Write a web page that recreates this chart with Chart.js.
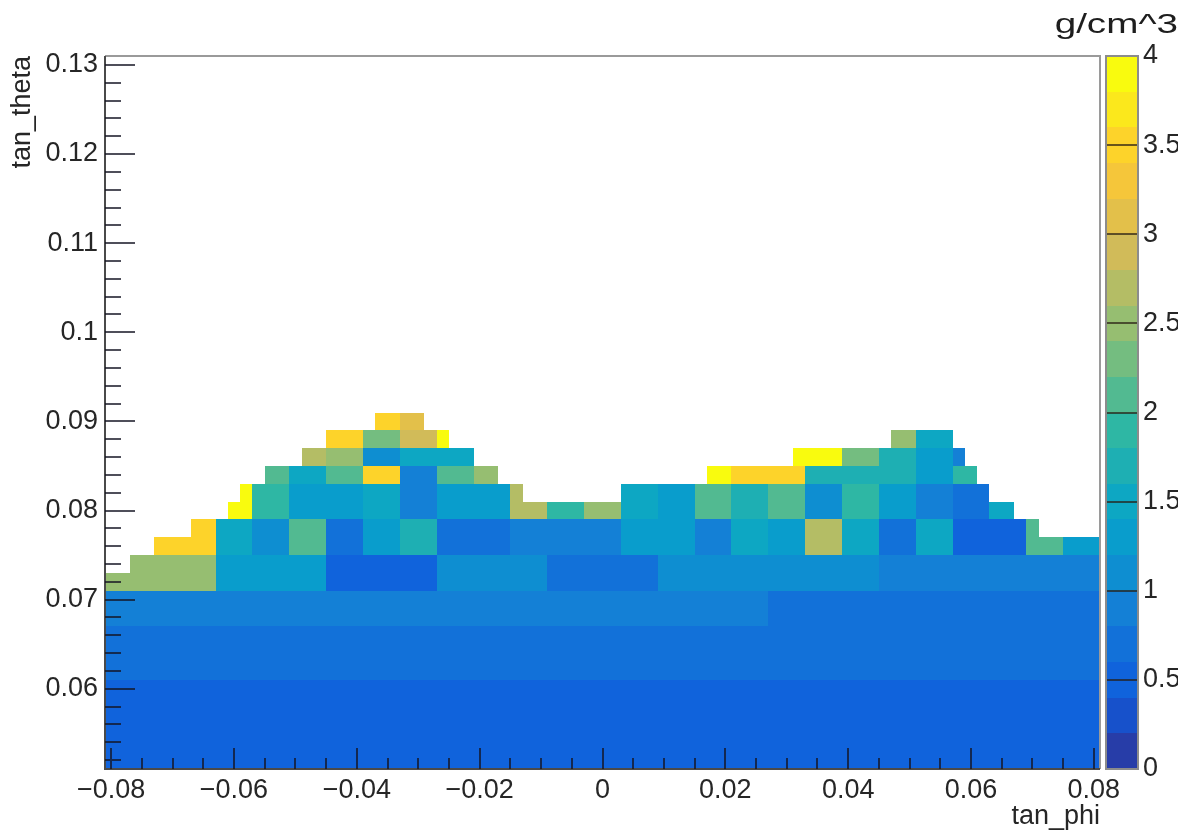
<!DOCTYPE html>
<html>
<head>
<meta charset="utf-8">
<title>tan_theta vs tan_phi density</title>
<script src="https://cdn.jsdelivr.net/npm/chart.js@4.4.1/dist/chart.umd.min.js"></script>
<style>
  html, body { margin: 0; padding: 0; background: #ffffff; }
  canvas { display: block; }
</style>
</head>
<body>
<canvas id="chart" width="1192" height="838"></canvas>
<script>
// ---- binning -------------------------------------------------------------
// tan_phi block edges: density is constant over blocks of three 0.002 bins
const tanPhiBlockEdges = [
  -0.081, -0.075, -0.069, -0.063, -0.057, -0.051, -0.045, -0.039, -0.033, -0.027,
  -0.021, -0.015, -0.009, -0.003, 0.003, 0.009, 0.015, 0.021, 0.027, 0.033,
  0.039, 0.045, 0.051, 0.057, 0.063, 0.069, 0.075, 0.081
];
const tanPhiFineWidth = 0.002;      // width of one tan_phi bin
const finePerBlock = 3;             // tan_phi bins per density block

// tan_theta band edges
const tanThetaBandEdges = [0.051, 0.061, 0.067, 0.071, 0.075, 0.079, 0.083, 0.085, 0.087, 0.089, 0.091];
const tanThetaMax = 0.131;

// labelled axis ticks
const tanPhiTicks = [-0.08, -0.06, -0.04, -0.02, 0, 0.02, 0.04, 0.06, 0.08];
const tanThetaTicks = [0.06, 0.07, 0.08, 0.09, 0.1, 0.11, 0.12, 0.13];
const densityTicks = [0, 0.5, 1, 1.5, 2, 2.5, 3, 3.5, 4];

// upper tan_theta edge of the filled region, one entry per 0.002 tan_phi bin (81 bins)
const filledTop = [
  0.073, 0.073, 0.075, 0.075, 0.077, 0.077, 0.077, 0.079, 0.079, 0.079,
  0.081, 0.083, 0.083, 0.085, 0.085, 0.085, 0.087, 0.087, 0.089, 0.089,
  0.089, 0.089, 0.091, 0.091, 0.091, 0.091, 0.089, 0.089, 0.087, 0.087,
  0.085, 0.085, 0.083, 0.083, 0.081, 0.081, 0.081, 0.081, 0.081, 0.081,
  0.081, 0.081, 0.083, 0.083, 0.083, 0.083, 0.083, 0.083, 0.083, 0.085,
  0.085, 0.085, 0.085, 0.085, 0.085, 0.085, 0.087, 0.087, 0.087, 0.087,
  0.087, 0.087, 0.087, 0.087, 0.089, 0.089, 0.089, 0.089, 0.089, 0.087,
  0.085, 0.083, 0.081, 0.081, 0.079, 0.079, 0.077, 0.077, 0.077, 0.077,
  0.077
];

// ---- density (g/cm^3), one array per tan_theta band, one value per tan_phi block
const rho_051_061 = [0.52,0.52,0.52,0.52,0.52,0.52,0.52,0.52,0.52,0.52,0.52,0.52,0.52,0.52,0.52,0.52,0.52,0.52,0.52,0.52,0.52,0.52,0.52,0.52,0.52,0.52,0.52];
const rho_061_067 = [0.72,0.72,0.72,0.72,0.72,0.72,0.72,0.72,0.72,0.72,0.72,0.72,0.72,0.72,0.72,0.72,0.72,0.72,0.72,0.72,0.72,0.72,0.72,0.72,0.72,0.72,0.72];
const rho_067_071 = [0.9,0.9,0.9,0.9,0.9,0.9,0.9,0.9,0.9,0.9,0.9,0.9,0.9,0.9,0.9,0.9,0.9,0.9,0.72,0.72,0.72,0.72,0.72,0.72,0.72,0.72,0.72];
const rho_071_075 = [2.5,2.5,2.5,1.25,1.25,1.25,0.55,0.55,0.55,1.05,1.05,1.05,0.75,0.75,0.75,1.05,1.05,1.05,1.05,1.05,1.05,0.9,0.9,0.9,0.9,0.9,0.9];
const rho_075_079 = [null,3.5,3.5,1.4,1.15,2.1,0.7,1.35,1.75,0.7,0.7,0.95,0.95,0.95,1.3,1.3,0.95,1.5,1.2,2.7,1.5,0.75,1.4,0.55,0.55,2.1,1.3];
const rho_079_083 = [null,null,null,3.9,1.9,1.3,1.2,1.4,0.8,1.2,1.2,2.7,1.85,2.5,1.4,1.2,2.1,1.75,2.1,1.1,1.8,1.25,0.8,0.75,1.5,null,null];
const rho_083_085 = [null,null,null,null,2.05,1.5,2.1,3.5,0.85,2.0,2.5,null,null,null,null,null,3.9,3.45,3.45,1.7,1.7,1.7,1.2,1.9,null,null,null];
const rho_085_087 = [null,null,null,null,null,2.7,2.5,1.15,1.55,1.45,null,null,null,null,null,null,null,null,3.9,3.9,2.3,1.6,1.2,0.9,null,null,null];
const rho_087_089 = [null,null,null,null,null,null,3.45,2.3,2.9,3.9,null,null,null,null,null,null,null,null,null,null,null,2.5,1.5,null,null,null,null];
const rho_089_091 = [null,null,null,null,null,null,null,3.5,3.1,null,null,null,null,null,null,null,null,null,null,null,null,null,null,null,null,null,null];

const densityBands = [rho_051_061, rho_061_067, rho_067_071, rho_071_075, rho_075_079,
                      rho_079_083, rho_083_085, rho_085_087, rho_087_089, rho_089_091];

// colour scale
const zMin = 0, zMax = 4, zLevels = 20;
const zUnit = 'g/cm^3';

// ---- kBird palette with contour-level lookup ------------------------------
const birdStops = [0.0, 0.125, 0.25, 0.375, 0.5, 0.625, 0.75, 0.875, 1.0];
const birdR = [0.2082, 0.0592, 0.0780, 0.0232, 0.1802, 0.5301, 0.8186, 0.9956, 0.9764];
const birdG = [0.1664, 0.3599, 0.5041, 0.6419, 0.7178, 0.7492, 0.7328, 0.7862, 0.9832];
const birdB = [0.5293, 0.8684, 0.8385, 0.7914, 0.6425, 0.4662, 0.3499, 0.1968, 0.0539];

function birdAt(f) {
  f = Math.max(0, Math.min(1, f));
  let i = 0;
  while (i < birdStops.length - 2 && f > birdStops[i + 1]) i++;
  const t = (f - birdStops[i]) / (birdStops[i + 1] - birdStops[i]);
  const c = arr => Math.round(255 * (arr[i] + (arr[i + 1] - arr[i]) * t));
  return `rgb(${c(birdR)},${c(birdG)},${c(birdB)})`;
}
function levelColor(k) {
  const idx = Math.min(254, Math.floor((k + 0.99) * 255 / zLevels));
  return birdAt(idx / 254);
}
function valueColor(v) {
  let k = Math.floor((v - zMin) / (zMax - zMin) * zLevels);
  k = Math.max(0, Math.min(zLevels - 1, k));
  return levelColor(k);
}

// ---- cells: one rectangle per run of tan_phi bins with the same clipped top
const cells = [];
densityBands.forEach((band, j) => {
  const y0 = tanThetaBandEdges[j], y1 = tanThetaBandEdges[j + 1];
  band.forEach((v, b) => {
    if (v === null) return;
    let run = null;
    for (let s = 0; s < finePerBlock; s++) {
      const i = b * finePerBlock + s;
      const top = Math.min(y1, filledTop[i]);
      const xa = tanPhiBlockEdges[b] + s * tanPhiFineWidth;
      const xb = xa + tanPhiFineWidth;
      if (top <= y0 + 1e-9) { if (run) { cells.push(run); run = null; } continue; }
      if (run && Math.abs(run.y1 - top) < 1e-9) { run.x1 = xb; run.x = (run.x0 + run.x1) / 2; }
      else {
        if (run) cells.push(run);
        run = { x0: xa, x1: xb, y0: y0, y1: top, x: (xa + xb) / 2, y: (y0 + top) / 2, v: v };
      }
    }
    if (run) cells.push(run);
  });
});

// ---- drawing helpers ------------------------------------------------------
const textColor = '#262626';
const fontFamily = "'Liberation Sans', Arial, Helvetica, sans-serif";
Chart.defaults.font.family = fontFamily;

const fmt = v => String(parseFloat(v.toFixed(4))).replace('-', '\u2212');
const fixedTicks = values => scale => { scale.ticks = values.map(v => ({ value: v })); };

const densityPlugin = {
  id: 'densityCells',
  beforeDatasetsDraw(chart) {
    const { ctx, chartArea: a, scales: { x, y } } = chart;
    ctx.save();
    ctx.beginPath();
    ctx.rect(a.left, a.top, a.right - a.left, a.bottom - a.top);
    ctx.clip();
    for (const c of chart.data.datasets[0].data) {
      const px0 = Math.round(x.getPixelForValue(c.x0));
      const px1 = Math.round(x.getPixelForValue(c.x1));
      const py0 = Math.round(y.getPixelForValue(c.y1));
      const py1 = Math.round(y.getPixelForValue(c.y0));
      ctx.fillStyle = valueColor(c.v);
      ctx.fillRect(px0, py0, px1 - px0, py1 - py0);
    }
    ctx.restore();
  },
  afterDatasetsDraw(chart) {
    const { ctx, chartArea: a, scales: { x, y, z } } = chart;
    ctx.save();

    // frame
    ctx.lineWidth = 2;
    ctx.strokeStyle = '#9a9a9a';
    ctx.beginPath();
    ctx.moveTo(a.left, a.top); ctx.lineTo(a.right, a.top); ctx.lineTo(a.right, a.bottom);
    ctx.stroke();
    ctx.strokeStyle = '#4a4a4a';
    ctx.beginPath();
    ctx.moveTo(a.left, a.top); ctx.lineTo(a.left, a.bottom); ctx.lineTo(a.right, a.bottom);
    ctx.stroke();

    // tick marks drawn inside the frame
    ctx.strokeStyle = 'rgba(20,20,35,0.75)';
    ctx.lineWidth = 2;
    ctx.beginPath();
    const yMinor = 0.002, xMinor = 0.005;
    for (let n = Math.ceil(y.min / yMinor - 1e-6); n * yMinor <= y.max + 1e-9; n++) {
      const v = n * yMinor;
      const major = y.ticks.some(t => Math.abs(t.value - v) < 1e-9);
      const py = Math.round(y.getPixelForValue(v));
      ctx.moveTo(a.left, py); ctx.lineTo(a.left + (major ? 30 : 16), py);
    }
    for (let n = Math.ceil(x.min / xMinor - 1e-6); n * xMinor <= x.max + 1e-9; n++) {
      const v = n * xMinor;
      const major = x.ticks.some(t => Math.abs(t.value - v) < 1e-9);
      const px = Math.round(x.getPixelForValue(v));
      ctx.moveTo(px, a.bottom); ctx.lineTo(px, a.bottom - (major ? 21 : 11));
    }
    ctx.stroke();

    // colour bar
    const bx0 = a.right + 7, bx1 = a.right + 37;
    const step = (zMax - zMin) / zLevels;
    for (let k = 0; k < zLevels; k++) {
      const yt = Math.round(z.getPixelForValue(zMin + (k + 1) * step));
      const yb = Math.round(z.getPixelForValue(zMin + k * step));
      ctx.fillStyle = levelColor(k);
      ctx.fillRect(bx0, yt, bx1 - bx0, yb - yt);
    }
    ctx.strokeStyle = 'rgba(40,30,20,0.7)';
    ctx.lineWidth = 2;
    ctx.beginPath();
    for (const t of z.ticks) {
      const py = Math.round(z.getPixelForValue(t.value));
      ctx.moveTo(bx0, py); ctx.lineTo(bx1, py);
    }
    ctx.stroke();
    ctx.strokeStyle = '#8c8c8c';
    ctx.lineWidth = 2;
    const zt = Math.round(z.getPixelForValue(zMax)), zb = Math.round(z.getPixelForValue(zMin));
    ctx.strokeRect(bx0 - 1, zt, bx1 - bx0 + 2, zb - zt);

    // unit label above the colour bar (wide ROOT-style lettering)
    ctx.fillStyle = '#1e1e1e';
    ctx.font = `28px ${fontFamily}`;
    ctx.textAlign = 'right';
    ctx.textBaseline = 'alphabetic';
    ctx.translate(1178, 33);
    ctx.scale(1.38, 1);
    ctx.fillText(zUnit, 0, 0);
    ctx.restore();
  }
};

const tickFont = { size: 27, family: fontFamily };

new Chart(document.getElementById('chart'), {
  type: 'scatter',
  data: {
    datasets: [{
      label: 'density',
      data: cells,
      pointRadius: 0,
      pointHoverRadius: 0,
      showLine: false
    }]
  },
  options: {
    responsive: false,
    animation: false,
    events: [],
    layout: { padding: { left: 0, right: 14, top: 56, bottom: 0 } },
    plugins: {
      legend: { display: false },
      tooltip: { enabled: false },
      title: { display: false }
    },
    scales: {
      x: {
        type: 'linear',
        position: 'bottom',
        min: tanPhiBlockEdges[0],
        max: tanPhiBlockEdges[tanPhiBlockEdges.length - 1],
        grid: { display: false, drawTicks: false },
        border: { display: false },
        afterBuildTicks: fixedTicks(tanPhiTicks),
        ticks: {
          autoSkip: false, maxRotation: 0,
          color: textColor, font: tickFont, padding: 5,
          callback: v => fmt(v)
        },
        title: {
          display: true, text: 'tan_phi', align: 'end', color: textColor,
          font: tickFont, padding: { top: 0, bottom: 5 }
        },
        afterFit: s => { s.height = 69; }
      },
      y: {
        type: 'linear',
        position: 'left',
        min: tanThetaBandEdges[0],
        max: tanThetaMax,
        grid: { display: false, drawTicks: false },
        border: { display: false },
        afterBuildTicks: fixedTicks(tanThetaTicks),
        ticks: {
          autoSkip: false,
          color: textColor, font: tickFont, padding: 7,
          callback: v => fmt(v)
        },
        title: {
          display: true, text: 'tan_theta', align: 'end', color: textColor,
          font: tickFont, padding: { top: 6, bottom: 0 }
        },
        afterFit: s => { s.width = 105; }
      },
      z: {
        type: 'linear',
        axis: 'y',
        position: 'right',
        min: zMin,
        max: zMax,
        // transparent tick marks reserve the colour-bar width beside the plot
        grid: { display: true, drawOnChartArea: false, drawTicks: true, tickLength: 36, color: 'rgba(0,0,0,0)' },
        border: { display: false },
        afterBuildTicks: fixedTicks(densityTicks),
        ticks: {
          autoSkip: false,
          color: textColor, font: tickFont, padding: 7,
          callback: v => fmt(v)
        },
        afterFit: s => { s.width = 78; }
      }
    }
  },
  plugins: [densityPlugin]
});
</script>
</body>
</html>
